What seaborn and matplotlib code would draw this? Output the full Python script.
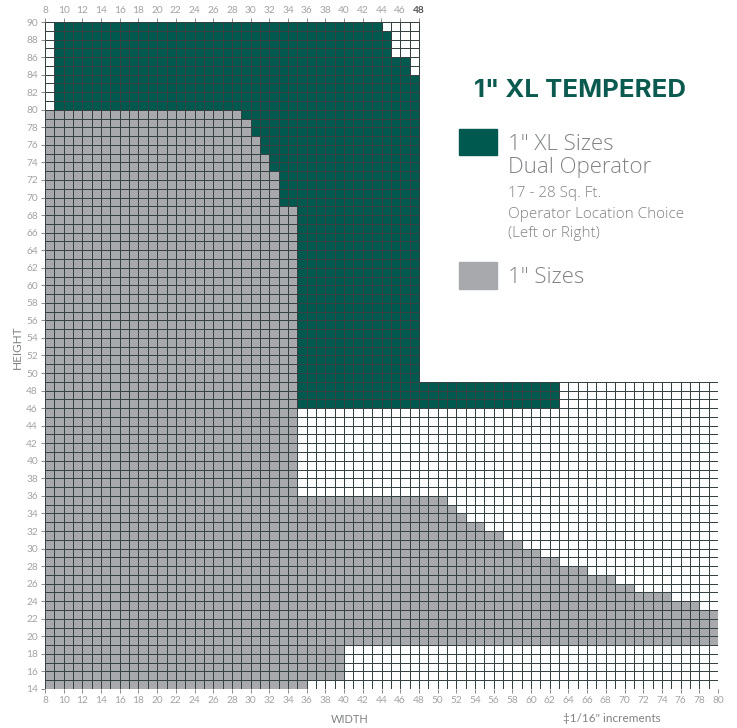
import bisect
import numpy as np
import pandas as pd
import matplotlib
matplotlib.use("Agg")
import matplotlib.pyplot as plt
import seaborn as sns
from matplotlib.colors import ListedColormap, to_rgba
from matplotlib.patches import Rectangle

plt.rcParams["font.family"] = ["Lato", "DejaVu Sans"]

# cell rows (height, lower edge) and columns (width, left edge)
heights = list(range(14, 90))
widths = list(range(8, 80))

# grid extent: rows starting at grid_from reach to grid_right
grid_from = [14, 49]
grid_right = [80, 48]

# 1" sizes (gray): from width 8 up to gray_right
gray_from = [14, 15, 19, 23, 24, 25, 26, 27, 28, 29, 30, 31, 32, 33, 34, 35, 36, 69, 73, 75, 77, 79, 80]
gray_right = [36, 40, 80, 78, 75, 71, 69, 66, 63, 61, 59, 57, 55, 53, 52, 51, 35, 33, 32, 31, 30, 29, 8]

# 1" XL sizes (green): from xl_left up to xl_right
xl_from = [14, 46, 49, 69, 73, 75, 77, 79, 80, 84, 86, 89]
xl_left = [0, 35, 35, 33, 32, 31, 30, 29, 9, 9, 9, 9]
xl_right = [0, 63, 48, 48, 48, 48, 48, 48, 48, 47, 45, 44]

x_ticks = list(range(8, 81, 2))
top_ticks = list(range(8, 49, 2))
y_ticks = list(range(14, 91, 2))

GREEN = "#00594f"
GRAY = "#a7a9ac"
TXT = "#808285"
LINE = "#364143"


def step(h, starts, vals):
    return vals[bisect.bisect_right(starts, h) - 1]


rows = []
for h in heights[::-1]:
    row = []
    for w in widths:
        if w >= step(h, grid_from, grid_right):
            row.append(np.nan)
        elif step(h, xl_from, xl_left) <= w < step(h, xl_from, xl_right):
            row.append(2)
        elif w < step(h, gray_from, gray_right):
            row.append(1)
        else:
            row.append(0)
    rows.append(row)
df = pd.DataFrame(rows, index=heights[::-1], columns=widths)
mask = df.isna()

fig = plt.figure(figsize=(7.37, 7.28), dpi=100)
ax = fig.add_axes([45 / 737, 1 - 689 / 728, 673 / 737, 667 / 728])

sns.heatmap(df, mask=mask, cmap=ListedColormap(["#ffffff", GRAY, GREEN]),
            vmin=-0.5, vmax=2.5, cbar=False, linewidths=0.65, linecolor=LINE,
            xticklabels=False, yticklabels=False, ax=ax)

# no grid lines on cells outside the chart
mesh = ax.collections[0]
ec = np.tile(to_rgba(LINE), (mask.size, 1))
ec[mask.values.ravel()] = (0, 0, 0, 0)
mesh.set_edgecolor(ec)

ax.set_xticks([w - 8 for w in x_ticks])
ax.set_xticklabels([str(w) for w in x_ticks])
ax.set_yticks([90 - h for h in y_ticks])
ax.set_yticklabels([str(h) for h in y_ticks], rotation=0)
ax.tick_params(axis="both", length=3, width=0.6, color="#777777",
               labelcolor="#a3a3a3", labelsize=7.3, pad=2)

secax = ax.secondary_xaxis("top")
secax.set_xticks([w - 8 for w in top_ticks])
secax.set_xticklabels([str(w) for w in top_ticks])
secax.tick_params(length=3, width=0.6, color="#777777", labelcolor="#a3a3a3", labelsize=7.3, pad=2)
secax.spines["top"].set_visible(False)
lab = secax.get_xticklabels()[-1]
lab.set_fontweight("bold")
lab.set_color("#555555")

ax.set_xlabel("WIDTH", fontsize=8, color=TXT)
ax.xaxis.set_label_coords((350 - 45) / 673, (689 - 723) / 667)
ax.xaxis.label.set_va("baseline")
ax.set_ylabel("HEIGHT", fontsize=8.5, color=TXT)
ax.yaxis.set_label_coords((23 - 45) / 673, (689 - 347) / 667)

fig.text(563 / 737, 1 - 722 / 728, "\u20211/16\" increments", fontsize=8.5, color=TXT, va="baseline")

# legend block
fig.text(580 / 737, 1 - 97 / 728, "1\" XL TEMPERED", fontsize=18.5, fontweight="bold",
         family=["Inter", "DejaVu Sans"], color="#0b5a4f", ha="center", va="baseline")
fig.add_artist(Rectangle((459 / 737, 1 - 155 / 728), 38 / 737, 26 / 728,
                         transform=fig.transFigure, color=GREEN))
fig.add_artist(Rectangle((459 / 737, 1 - 289 / 728), 38 / 737, 27 / 728,
                         transform=fig.transFigure, color=GRAY))
leg_font = ["Open Sans", "DejaVu Sans"]
fig.text(508 / 737, 1 - 150 / 728, "1\" XL Sizes", fontsize=16, family=leg_font,
         fontweight="light", color=TXT, va="baseline")
fig.text(508 / 737, 1 - 173 / 728, "Dual Operator", fontsize=16, family=leg_font,
         fontweight="light", color=TXT, va="baseline")
fig.text(508 / 737, 1 - 197 / 728, "17 - 28 Sq. Ft.", fontsize=11, family=leg_font,
         fontweight="light", color=TXT, va="baseline")
fig.text(508 / 737, 1 - 218 / 728, "Operator Location Choice", fontsize=11, family=leg_font,
         fontweight="light", color=TXT, va="baseline")
fig.text(508 / 737, 1 - 237 / 728, "(Left or Right)", fontsize=11, family=leg_font,
         fontweight="light", color=TXT, va="baseline")
fig.text(508 / 737, 1 - 283 / 728, "1\" Sizes", fontsize=16, family=leg_font,
         fontweight="light", color=TXT, va="baseline")

fig.savefig("out.png", dpi=100)
plt.close(fig)
